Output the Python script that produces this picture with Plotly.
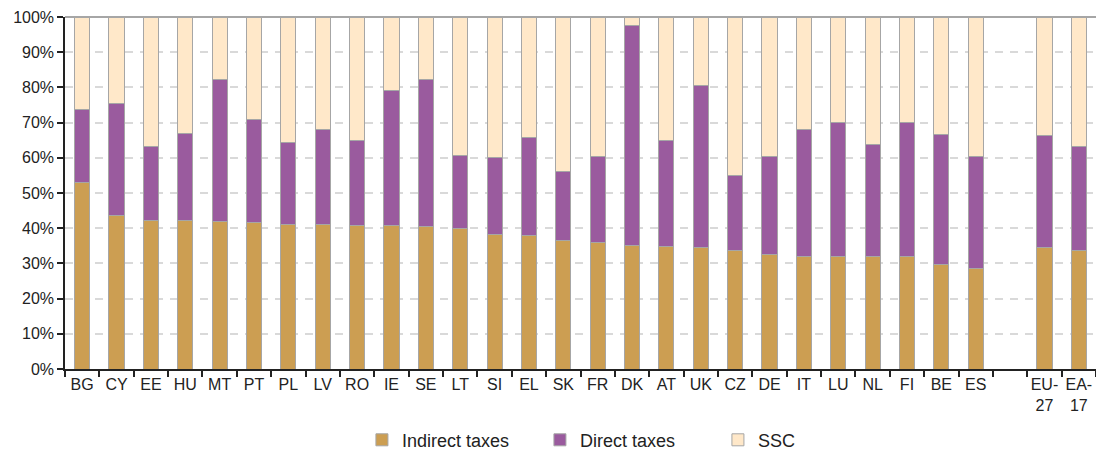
import plotly.graph_objects as go

countries = ["BG", "CY", "EE", "HU", "MT", "PT", "PL", "LV", "RO", "IE", "SE", "LT", "SI", "EL",
             "SK", "FR", "DK", "AT", "UK", "CZ", "DE", "IT", "LU", "NL", "FI", "BE", "ES"]
aggregates = ["EU-<br>27", "EA-<br>17"]
gap_label = " "

# Values (shares in %)
indirect_c = [53.1, 43.7, 42.2, 42.1, 41.8, 41.7, 41.1, 41.1, 40.8, 40.8, 40.4, 40.0, 38.3, 37.8,
              36.6, 35.9, 35.2, 34.8, 34.4, 33.7, 32.6, 31.9, 31.9, 31.9, 31.9, 29.7, 28.6]
direct_c = [20.5, 31.7, 21.0, 24.8, 40.4, 29.3, 23.2, 26.8, 24.1, 38.4, 41.8, 20.6, 21.9, 28.0,
            19.5, 24.4, 62.5, 30.2, 46.0, 21.4, 27.7, 36.1, 38.0, 32.0, 38.2, 36.8, 31.7]
ssc_c = [26.4, 24.6, 36.8, 33.1, 17.8, 29.0, 35.7, 32.1, 35.1, 20.8, 17.8, 39.4, 39.8, 34.2,
         43.9, 39.7, 2.3, 35.0, 19.6, 44.9, 39.7, 32.0, 30.1, 36.1, 29.9, 33.5, 39.7]

indirect_a = [34.4, 33.8]
direct_a = [32.0, 29.3]
ssc_a = [33.6, 36.9]

cats = countries + aggregates
indirect = indirect_c + indirect_a
direct = direct_c + direct_a
ssc = ssc_c + ssc_a
axis_order = countries + [gap_label] + aggregates

outline = dict(color="#A6A6A6", width=1)
fig = go.Figure()
fig.add_trace(go.Bar(x=cats, y=indirect, name="Indirect taxes",
                     marker=dict(color="#CC9E52", line=outline)))
fig.add_trace(go.Bar(x=cats, y=direct, name="Direct taxes",
                     marker=dict(color="#9A5B9E", line=outline)))
fig.add_trace(go.Bar(x=cats, y=ssc, name="SSC",
                     marker=dict(color="#FFE8C9", line=outline)))

fig.add_shape(type="line", xref="paper", yref="paper", x0=0, x1=1, y0=1, y1=1,
              line=dict(color="#A6A6A6", width=2))

fig.update_layout(
    barmode="stack",
    bargap=0.56,
    width=1096, height=450,
    margin=dict(l=65, r=0, t=17, b=81, autoexpand=False),
    plot_bgcolor="white", paper_bgcolor="white",
    font=dict(family="Liberation Sans, Arial, sans-serif", size=16, color="#222222"),
    showlegend=True,
    legend=dict(orientation="h", x=0.288, xanchor="left", y=-0.202, yanchor="middle",
                font=dict(size=18, color="#222222"),
                entrywidth=133, entrywidthmode="pixels",
                itemwidth=30, traceorder="normal"),
    xaxis=dict(type="category", categoryorder="array", categoryarray=axis_order,
               range=[-0.5, len(axis_order) - 0.5], automargin=False,
               showline=True, linecolor="#222222", linewidth=1.5,
               ticks="outside", tickson="boundaries", ticklen=6, tickcolor="#222222",
               tickwidth=1.5, tickangle=0, ticklabeloverflow="allow",
               showgrid=False, tickfont=dict(size=16)),
    yaxis=dict(range=[0, 100], tickvals=list(range(0, 101, 10)),
               ticktext=[f"{v}%" for v in range(0, 101, 10)], automargin=False,
               showline=True, linecolor="#222222", linewidth=1.5,
               ticks="outside", ticklen=6, tickcolor="#222222", tickwidth=1.5,
               showgrid=True, gridcolor="#D9D9D9", gridwidth=1.5, griddash="8px,7px",
               zeroline=False, tickfont=dict(size=16)),
)

fig.write_html(
    "out.html",
    config={"displayModeBar": False},
    post_script="document.body.style.margin='0';document.body.style.overflow='hidden';",
)
